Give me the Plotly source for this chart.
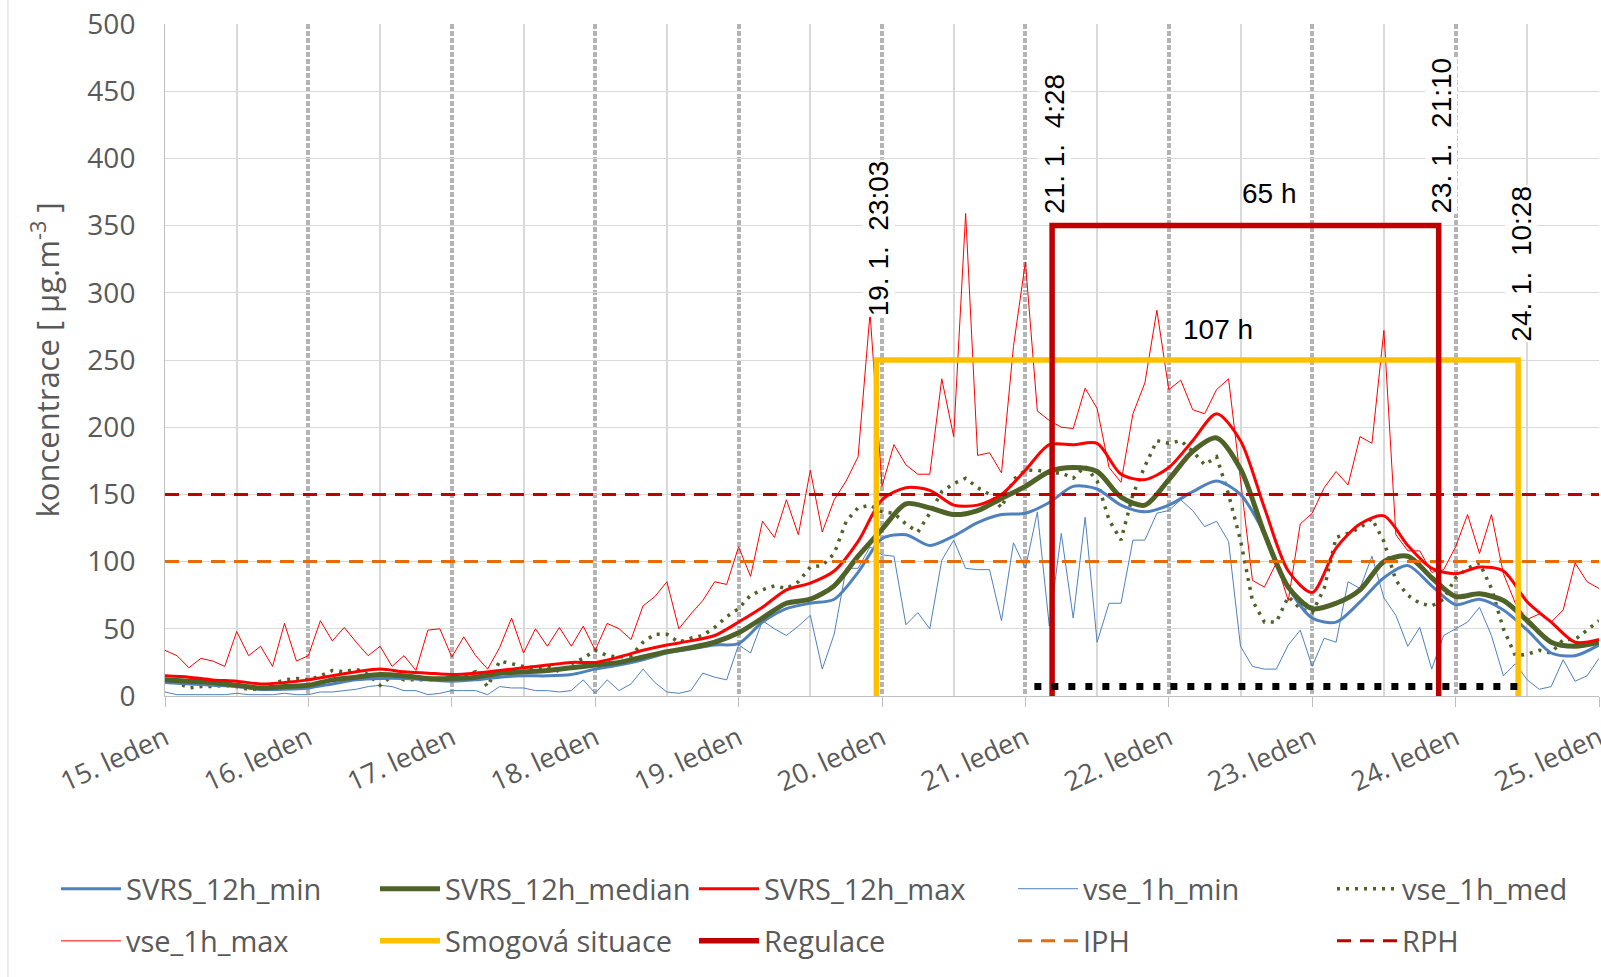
import plotly.graph_objects as go

# ── Data (hours since 15. 1. 0:00) ───────────────────────────────────────────

HOURS_2H = list(range(0, 241, 2))
HOURS_4H = list(range(0, 241, 4))
DAY_TICKS = list(range(0, 241, 24))
DAY_LABELS = ["15. leden", "16. leden", "17. leden", "18. leden", "19. leden",
              "20. leden", "21. leden", "22. leden", "23. leden", "24. leden",
              "25. leden"]
Y_TICKS = list(range(0, 501, 50))

# 12h station series (every 4 h)
svrs_min = [10, 9, 8, 7, 5, 5, 6, 9, 12, 13,
            13, 12, 11, 12, 14, 15, 15, 16, 20, 23,
            27, 32, 35, 38, 39, 55, 65, 69, 72, 92,
            117, 120, 112, 119, 129, 135, 136, 144, 156, 154,
            142, 137, 142, 152, 160, 150, 121, 81, 58, 55,
            70, 88, 97, 82, 68, 72, 64, 49, 32, 30,
            38]
svrs_median = [12, 11, 10, 8, 6, 7, 8, 12, 14, 16,
               15, 13, 13, 14, 17, 18, 19, 21, 23, 25,
               29, 33, 36, 40, 47, 58, 69, 72, 82, 104,
               124, 143, 140, 135, 138, 147, 156, 167, 170, 167,
               148, 142, 161, 182, 192, 169, 121, 81, 65, 69,
               79, 100, 104, 88, 74, 76, 71, 56, 40, 37,
               40]
svrs_max = [15, 14, 12, 11, 9, 10, 12, 15, 18, 20,
            18, 17, 16, 17, 19, 21, 23, 25, 25, 29,
            34, 38, 41, 45, 55, 66, 79, 84, 93, 115,
            146, 155, 153, 142, 142, 150, 168, 187, 187, 188,
            165, 161, 170, 190, 210, 190, 140, 93, 77, 110,
            128, 134, 112, 95, 91, 96, 93, 70, 55, 40,
            42]

# all stations, hourly values (read every 2 h)
vse_min = [3, 1, 1, 1, 1, 1, 2, 1, 1, 1,
           2, 1, 1, 3, 3, 4, 5, 7, 8, 7,
           4, 4, 1, 2, 4, 4, 4, 1, 7, 6,
           6, 4, 4, 3, 4, 12, 2, 12, 4, 9,
           20, 10, 3, 2, 4, 17, 14, 12, 38, 32,
           56, 50, 45, 52, 60, 20, 46, 95, 95, 111,
           105, 104, 53, 62, 50, 101, 116, 95, 94, 94,
           56, 114, 95, 137, 52, 121, 58, 133, 40, 69,
           69, 116, 116, 136, 138, 146, 138, 126, 130, 115,
           37, 22, 20, 20, 38, 49, 22, 43, 40, 85,
           80, 104, 73, 60, 37, 51, 20, 45, 50, 55,
           66, 45, 15, 24, 12, 5, 7, 27, 11, 15,
           28]
vse_med = [12, 10, 6, 7, 7, 8, 7, 5, 5, 9,
           12, 13, 12, 15, 19, 18, 20, 16, 8, 15,
           12, 12, 12, 13, 14, 15, 18, 7, 26, 24,
           22, 21, 22, 18, 24, 28, 34, 30, 29, 30,
           40, 46, 46, 40, 43, 45, 51, 59, 65, 75,
           79, 82, 80, 85, 96, 97, 106, 130, 140, 142,
           137, 136, 128, 122, 136, 152, 158, 162, 155, 150,
           140, 161, 168, 168, 166, 166, 162, 171, 160, 131,
           116, 150, 171, 190, 188, 190, 182, 172, 178, 150,
           116, 71, 55, 55, 74, 65, 62, 80, 118, 121,
           125, 132, 115, 86, 75, 69, 67, 72, 88, 95,
           99, 80, 50, 30, 31, 34, 32, 42, 42, 49,
           56]
vse_max = [34, 30, 21, 28, 26, 22, 48, 30, 37, 22,
           54, 26, 30, 56, 41, 51, 40, 30, 37, 22,
           30, 19, 49, 50, 29, 44, 30, 20, 36, 58,
           32, 50, 37, 51, 37, 52, 34, 54, 50, 42,
           67, 74, 85, 50, 61, 71, 85, 83, 111, 89,
           130, 118, 146, 120, 168, 122, 146, 160, 178, 285,
           156, 187, 172, 165, 165, 236, 193, 359, 179, 181,
           166, 260, 323, 212, 205, 200, 199, 229, 214, 170,
           159, 210, 233, 287, 228, 235, 213, 210, 228, 236,
           161, 86, 81, 99, 71, 128, 136, 155, 167, 157,
           193, 188, 272, 120, 108, 108, 92, 94, 111, 135,
           106, 135, 91, 69, 57, 61, 55, 64, 99, 85,
           80]

# limits and episodes
IPH_LIMIT = 100
RPH_LIMIT = 150
SMOG_START, SMOG_END, SMOG_LEVEL = 119.05, 226.47, 250      # 19.1. 23:03 – 24.1. 10:28
REG_START, REG_END, REG_LEVEL = 148.47, 213.17, 350         # 21.1. 4:28 – 23.1. 21:10
MARK_START, MARK_END, MARK_LEVEL = 145.5, 226.5, 7

EVENT_HOURS = [SMOG_START, REG_START, REG_END, SMOG_END]
EVENT_LABELS = ["19. 1.  23:03", "21. 1.  4:28", "23. 1.  21:10", "24. 1.  10:28"]
DURATION_LABELS = ["65 h", "107 h"]

BLUE = "#4F81BD"
OLIVE = "#4F6228"
RED = "#FF0000"
GREY_TXT = "#595959"
FONT = "Open Sans"

# ── Figure ───────────────────────────────────────────────────────────────────

fig = go.Figure()


def add_line(name, x, y, color, width, dash="solid", shape="linear", rank=1,
             legend="legend", show=True):
    fig.add_trace(go.Scatter(
        x=x, y=y, mode="lines", name=name, legend=legend, legendrank=rank,
        showlegend=show, hoverinfo="skip",
        line=dict(color=color, width=width, dash=dash, shape=shape,
                  smoothing=0.8 if shape == "spline" else None),
    ))


add_line("vse_1h_min", HOURS_2H, vse_min, BLUE, 1, rank=4)
add_line("vse_1h_med", HOURS_2H, vse_med, OLIVE, 3.5, dash="3px,6px", rank=5)
add_line("vse_1h_max", HOURS_2H, vse_max, RED, 1, rank=6, legend="legend2")
add_line("SVRS_12h_min", HOURS_4H, svrs_min, BLUE, 3, shape="spline", rank=1)
add_line("SVRS_12h_median", HOURS_4H, svrs_median, OLIVE, 5, shape="spline", rank=2)
add_line("SVRS_12h_max", HOURS_4H, svrs_max, RED, 3, shape="spline", rank=3)
add_line("IPH", [0, 240], [IPH_LIMIT, IPH_LIMIT], "#E46C0A", 3, dash="14px,9px",
         rank=9, legend="legend2")
add_line("RPH", [0, 240], [RPH_LIMIT, RPH_LIMIT], "#C00000", 3, dash="14px,9px",
         rank=10, legend="legend2")
add_line("Smogová situace", [SMOG_START, SMOG_START, SMOG_END, SMOG_END],
         [0, SMOG_LEVEL, SMOG_LEVEL, 0], "#FFC000", 5.5, rank=7, legend="legend2")
add_line("Regulace", [REG_START, REG_START, REG_END, REG_END],
         [0, REG_LEVEL, REG_LEVEL, 0], "#C00000", 5.5, rank=8, legend="legend2")
add_line("mark", [MARK_START, MARK_END], [MARK_LEVEL, MARK_LEVEL], "black", 7,
         dash="7px,10px", show=False)

# rotated date/time labels of the episode boundaries
label_bottoms = [282, 358, 358, 263]
for hx, txt, yb in zip(EVENT_HOURS, EVENT_LABELS, label_bottoms):
    fig.add_annotation(
        x=hx, y=yb, text=txt.replace(" ", "\u00a0"), textangle=-90,
        xanchor="center", yanchor="bottom", xshift=3, showarrow=False,
        bgcolor="white", borderpad=0,
        font=dict(family="Liberation Sans", size=28, color="black"),
    )

for txt, (hx, yv) in zip(DURATION_LABELS, [(184.8, 374), (176.2, 273)]):
    fig.add_annotation(
        x=hx, y=yv, text=txt, showarrow=False, xanchor="center", yanchor="middle",
        font=dict(family="Liberation Sans", size=28, color="black"),
    )

# chart-area border on the left
fig.add_shape(type="line", xref="paper", yref="paper",
              x0=-0.1095, x1=-0.1095, y0=-0.42, y1=1.04,
              line=dict(color="#D9D9D9", width=1))

legend_common = dict(
    orientation="h", xanchor="left", yanchor="middle",
    entrywidth=244, entrywidthmode="pixels", itemwidth=60,
    font=dict(family=FONT, size=29, color=GREY_TXT),
    bgcolor="rgba(0,0,0,0)", traceorder="normal",
)

fig.update_layout(
    width=1601, height=977,
    margin=dict(l=165, r=2, t=24, b=281, autoexpand=False),
    paper_bgcolor="white", plot_bgcolor="white",
    font=dict(family=FONT, color=GREY_TXT),
    legend=dict(x=-0.076, y=-0.287, **legend_common),
    legend2=dict(x=-0.076, y=-0.3646, **legend_common),
    xaxis=dict(
        range=[0, 240], tickmode="array", tickvals=DAY_TICKS, ticktext=DAY_LABELS,
        tickangle=-25, ticks="outside", ticklen=10, tickcolor="#BFBFBF",
        ticklabelstandoff=5,
        tickfont=dict(family=FONT, size=27, color=GREY_TXT),
        ticklabeloverflow="allow", automargin=False,
        showgrid=True, gridcolor="#B4B4B4", gridwidth=4, griddash="5px,2px",
        showline=True, linecolor="#BFBFBF", linewidth=1, zeroline=False,
        minor=dict(tickmode="linear", tick0=12, dtick=24, showgrid=True,
                   gridcolor="#D9D9D9", gridwidth=1.5, griddash="solid", ticks=""),
    ),
    yaxis=dict(
        range=[0, 500], tickmode="array", tickvals=Y_TICKS,
        ticks="", ticklabelstandoff=23, automargin=False,
        tickfont=dict(family=FONT, size=28, color=GREY_TXT),
        showgrid=True, gridcolor="#D9D9D9", gridwidth=1,
        showline=True, linecolor="#BFBFBF", linewidth=1, zeroline=False,
        title=dict(text="koncentrace [ µg.m<sup>-3</sup> ]", standoff=18,
                   font=dict(family=FONT, size=31, color=GREY_TXT)),
    ),
)

# the page has a default 8px body margin; drop it so the chart sits at 0,0
fig.write_html(
    "out.html",
    config={"displayModeBar": False},
    post_script="document.body.style.margin='0';document.body.style.overflow='hidden';",
)
